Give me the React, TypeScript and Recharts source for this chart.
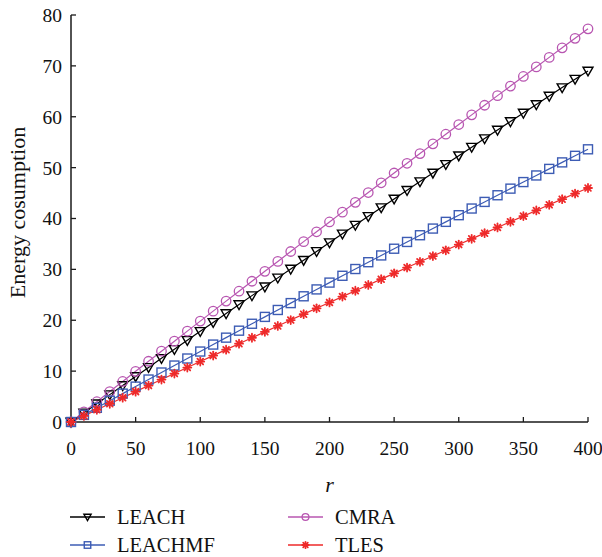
import React from 'react';
import { LineChart, Line, XAxis, YAxis, Legend, Label } from 'recharts';

const ROUNDS = [0, 10, 20, 30, 40, 50, 60, 70, 80, 90, 100, 110, 120, 130, 140, 150, 160, 170, 180, 190, 200, 210, 220, 230, 240, 250, 260, 270, 280, 290, 300, 310, 320, 330, 340, 350, 360, 370, 380, 390, 400];
const LEACH = [0, 1.8, 3.59, 5.38, 7.17, 8.95, 10.73, 12.51, 14.28, 16.05, 17.82, 19.58, 21.33, 23.09, 24.84, 26.58, 28.33, 30.07, 31.8, 33.53, 35.26, 36.98, 38.7, 40.42, 42.13, 43.84, 45.55, 47.25, 48.95, 50.64, 52.34, 54.02, 55.71, 57.39, 59.06, 60.73, 62.4, 64.07, 65.73, 67.39, 69.0];
const LEACHMF = [0, 1.4, 2.79, 4.19, 5.58, 6.96, 8.35, 9.73, 11.1, 12.48, 13.85, 15.22, 16.58, 17.95, 19.31, 20.66, 22.02, 23.37, 24.71, 26.06, 27.4, 28.74, 30.07, 31.41, 32.74, 34.06, 35.39, 36.71, 38.02, 39.34, 40.65, 41.96, 43.26, 44.57, 45.87, 47.16, 48.46, 49.75, 51.03, 52.32, 53.6];
const CMRA = [0, 2.0, 3.99, 5.98, 7.97, 9.96, 11.94, 13.92, 15.89, 17.86, 19.83, 21.79, 23.76, 25.71, 27.67, 29.62, 31.56, 33.51, 35.45, 37.39, 39.32, 41.25, 43.18, 45.1, 47.02, 48.94, 50.85, 52.76, 54.67, 56.57, 58.47, 60.37, 62.26, 64.15, 66.03, 67.92, 69.8, 71.67, 73.55, 75.41, 77.28];
const TLES = [0, 1.2, 2.4, 3.59, 4.78, 5.97, 7.16, 8.34, 9.52, 10.7, 11.88, 13.05, 14.22, 15.39, 16.56, 17.72, 18.88, 20.04, 21.2, 22.35, 23.5, 24.65, 25.8, 26.94, 28.08, 29.22, 30.36, 31.49, 32.62, 33.75, 34.88, 36.0, 37.12, 38.24, 39.36, 40.47, 41.58, 42.69, 43.8, 44.9, 46.0];
const X_TICKS = [0, 50, 100, 150, 200, 250, 300, 350, 400];
const Y_TICKS = [0, 10, 20, 30, 40, 50, 60, 70, 80];

const FONT = '"Liberation Serif", "Times New Roman", serif';
const AXIS_COLOR = '#1a1a1a';

type Kind = 'tri' | 'square' | 'circle' | 'star';

const SERIES: { key: string; name: string; color: string; kind: Kind }[] = [
  { key: 'leach', name: 'LEACH', color: '#000000', kind: 'tri' },
  { key: 'cmra', name: 'CMRA', color: '#b856b1', kind: 'circle' },
  { key: 'leachmf', name: 'LEACHMF', color: '#3d5cb4', kind: 'square' },
  { key: 'tles', name: 'TLES', color: '#ee2a2a', kind: 'star' },
];

const rows = ROUNDS.map((r, i) => ({
  r,
  leach: LEACH[i],
  leachmf: LEACHMF[i],
  cmra: CMRA[i],
  tles: TLES[i],
}));

function Marker({ kind, cx, cy, color, s }: { kind: Kind; cx: number; cy: number; color: string; s: number }) {
  if (cx == null || cy == null || isNaN(cx) || isNaN(cy)) return <g />;
  if (kind === 'tri') {
    const pts = `${cx - s},${cy - s * 0.75} ${cx + s},${cy - s * 0.75} ${cx},${cy + s}`;
    return <polygon points={pts} fill="none" stroke={color} strokeWidth={1.4} strokeLinejoin="miter" />;
  }
  if (kind === 'square') {
    return <rect x={cx - s * 0.9} y={cy - s * 0.9} width={s * 1.8} height={s * 1.8} fill="none" stroke={color} strokeWidth={1.4} />;
  }
  if (kind === 'circle') {
    return <circle cx={cx} cy={cy} r={s * 0.95} fill="none" stroke={color} strokeWidth={1.3} />;
  }
  const a = s * 0.8;
  const d = a * 0.72;
  return (
    <g stroke={color} strokeWidth={1.8} strokeLinecap="round">
      <line x1={cx - a} y1={cy} x2={cx + a} y2={cy} />
      <line x1={cx} y1={cy - a} x2={cx} y2={cy + a} />
      <line x1={cx - d} y1={cy - d} x2={cx + d} y2={cy + d} />
      <line x1={cx - d} y1={cy + d} x2={cx + d} y2={cy - d} />
    </g>
  );
}

const makeDot = (kind: Kind, color: string, name: string) => (p: any) => (
  <Marker key={`${name}-${p.index}`} kind={kind} cx={p.cx} cy={p.cy} color={color} s={5} />
);

const LegendBox = () => {
  const colIcon = [70, 288];
  const colText = [117, 335];
  const rowY = [14, 42];
  return (
    <div style={{ position: 'relative', width: 602, height: 54, fontFamily: FONT, fontSize: 20.5, color: '#111' }}>
      {SERIES.map((s, i) => {
        const col = i % 2;
        const row = Math.floor(i / 2);
        return (
          <React.Fragment key={s.key}>
            <svg
              width={36}
              height={16}
              style={{ position: 'absolute', left: colIcon[col], top: rowY[row] - 8, overflow: 'visible' }}
            >
              <line x1={0} y1={8} x2={35} y2={8} stroke={s.color} strokeWidth={1.3} />
              <Marker kind={s.kind} cx={17.5} cy={8} color={s.color} s={s.kind === 'star' ? 4 : 3.6} />
            </svg>
            <div
              style={{
                position: 'absolute',
                left: colText[col],
                top: rowY[row] - 12,
                height: 24,
                lineHeight: '24px',
                whiteSpace: 'nowrap',
              }}
            >
              {s.name}
            </div>
          </React.Fragment>
        );
      })}
    </div>
  );
};

const YTitle = (props: any) => {
  const vb = props.viewBox || { x: 0, y: 0, width: 71, height: 400 };
  const cx = vb.x + 17;
  const cy = vb.y + vb.height / 2 - 6;
  return (
    <text
      x={cx}
      y={cy}
      transform={`rotate(-90 ${cx} ${cy})`}
      textAnchor="middle"
      dominantBaseline="central"
      fontFamily={FONT}
      fontSize={22}
      fill="#111"
    >
      Energy cosumption
    </text>
  );
};

const XTitle = (props: any) => {
  const vb = props.viewBox || { x: 71, y: 422, width: 517, height: 81 };
  const cx = vb.x + vb.width / 2;
  const cy = vb.y + 62;
  return (
    <text x={cx} y={cy} textAnchor="middle" dominantBaseline="central" fontFamily={FONT} fontSize={22} fontStyle="italic" fill="#111">
      r
    </text>
  );
};

const tickStyle = { fontFamily: FONT, fontSize: 19.5, fill: '#111' };

export default function App() {
  return (
    <div style={{ position: 'absolute', left: 0, top: 0, width: 602, height: 557, background: '#fff' }}>
      <LineChart width={602} height={557} data={rows} margin={{ top: 15, right: 14, bottom: 0, left: 0 }}>
        <XAxis
          xAxisId="bottom"
          dataKey="r"
          type="number"
          domain={[0, 400]}
          ticks={X_TICKS}
          interval={0}
          height={81}
          tickSize={-5}
          tickMargin={24}
          tick={tickStyle}
          stroke={AXIS_COLOR}
          strokeWidth={1.5}
          tickLine={{ stroke: AXIS_COLOR, strokeWidth: 1.3 }}
          label={<Label content={<XTitle />} />}
        />
        <XAxis
          xAxisId="top"
          orientation="top"
          dataKey="r"
          type="number"
          domain={[0, 400]}
          ticks={X_TICKS}
          interval={0}
          height={0}
          tickSize={-5}
          tick={false}
          stroke={AXIS_COLOR}
          strokeWidth={1.5}
          tickLine={{ stroke: AXIS_COLOR, strokeWidth: 1.3 }}
        />
        <YAxis
          yAxisId="left"
          type="number"
          domain={[0, 80]}
          ticks={Y_TICKS}
          interval={0}
          width={71}
          tickSize={-5}
          tickMargin={14}
          tick={tickStyle}
          stroke={AXIS_COLOR}
          strokeWidth={1.5}
          tickLine={{ stroke: AXIS_COLOR, strokeWidth: 1.3 }}
          label={<Label content={<YTitle />} />}
        />
        <YAxis
          yAxisId="right"
          orientation="right"
          type="number"
          domain={[0, 80]}
          ticks={Y_TICKS}
          interval={0}
          width={0}
          tickSize={-5}
          tick={false}
          stroke={AXIS_COLOR}
          strokeWidth={1.5}
          tickLine={{ stroke: AXIS_COLOR, strokeWidth: 1.3 }}
        />
        <Legend verticalAlign="bottom" content={<LegendBox />} />
        {SERIES.map((s) => (
          <Line
            key={s.key}
            xAxisId="bottom"
            yAxisId="left"
            type="linear"
            dataKey={s.key}
            name={s.name}
            stroke={s.color}
            strokeWidth={1.2}
            dot={makeDot(s.kind, s.color, s.key)}
            activeDot={false}
            isAnimationActive={false}
          />
        ))}
      </LineChart>
    </div>
  );
}
